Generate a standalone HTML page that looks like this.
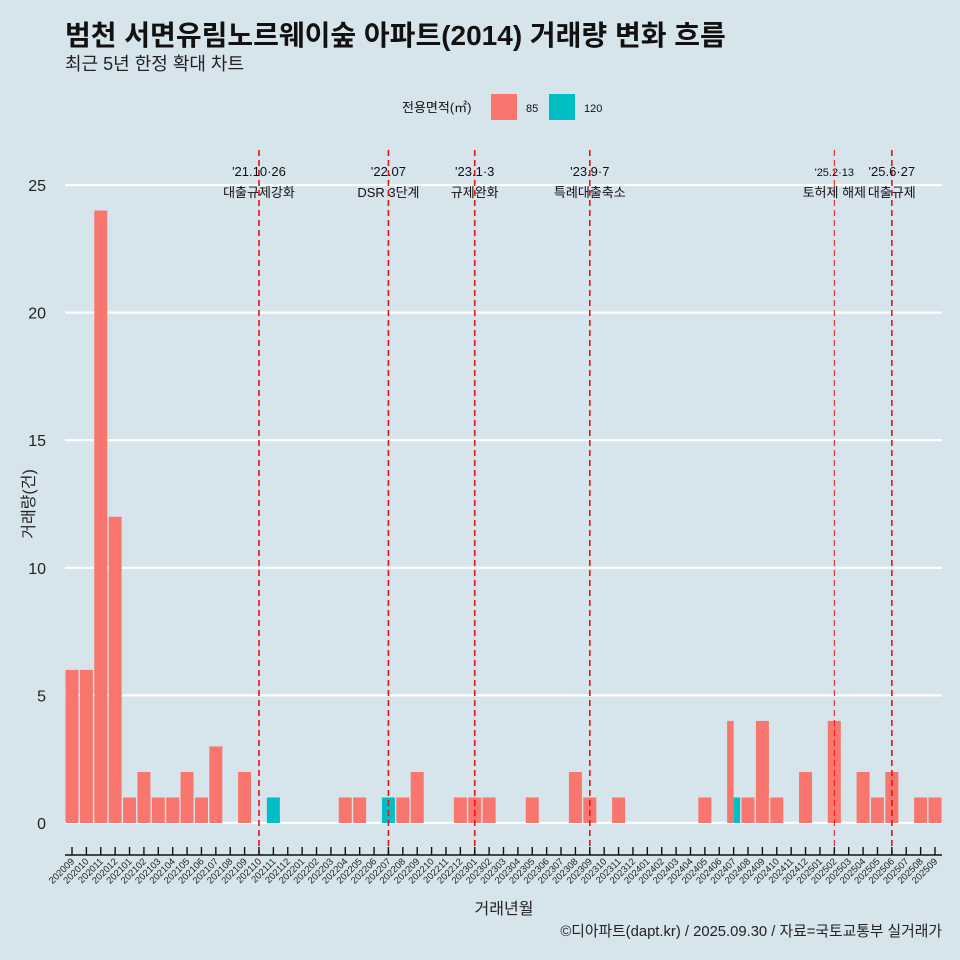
<!DOCTYPE html>
<html><head><meta charset="utf-8"><style>
body{margin:0;background:#d6e4ec;}
svg{display:block;font-family:"Liberation Sans","Noto Sans CJK KR",sans-serif;}
</style></head><body>
<svg id="chart" width="960" height="960">
<rect width="960" height="960" fill="#d6e4ec"/>
<text x="65" y="45" font-size="28" font-weight="bold" fill="#111">범천 서면유림노르웨이숲 아파트(2014) 거래량 변화 흐름</text>
<text x="65" y="70" font-size="18" fill="#222">최근 5년 한정 확대 차트</text>
<g>
<text x="402" y="112" font-size="13" fill="#111">전용면적(㎡)</text>
<rect x="491" y="94" width="26" height="26" fill="#f8766d"/>
<text x="526" y="112" font-size="11" fill="#111">85</text>
<rect x="549" y="94" width="26" height="26" fill="#00bfc4"/>
<text x="584" y="112" font-size="11" fill="#111">120</text>
</g>
<g id="grid"></g><g id="bars"></g><g id="events"></g><g id="axes"></g>
<text transform="translate(34,504) rotate(-90)" text-anchor="middle" font-size="16" fill="#222">거래량(건)</text>
<text x="504" y="914" text-anchor="middle" font-size="16" fill="#222">거래년월</text>
<text x="942" y="936" text-anchor="end" font-size="14.8" fill="#222">©디아파트(dapt.kr) / 2025.09.30 / 자료=국토교통부 실거래가</text>
</svg>
<script>
const categories=["202009","202010","202011","202012","202101","202102","202103","202104","202105","202106","202107","202108","202109","202110","202111","202112","202201","202202","202203","202204","202205","202206","202207","202208","202209","202210","202211","202212","202301","202302","202303","202304","202305","202306","202307","202308","202309","202310","202311","202312","202401","202402","202403","202404","202405","202406","202407","202408","202409","202410","202411","202412","202501","202502","202503","202504","202505","202506","202507","202508","202509"];
const series85=[6,6,24,12,1,2,1,1,2,1,3,0,2,0,0,0,0,0,0,1,1,0,0,1,2,0,0,1,1,1,0,0,1,0,0,2,1,0,1,0,0,0,0,0,1,0,4,1,4,1,0,2,0,4,0,2,1,2,0,1,1];
const series120=[0,0,0,0,0,0,0,0,0,0,0,0,0,0,1,0,0,0,0,0,0,0,1,0,0,0,0,0,0,0,0,0,0,0,0,0,0,0,0,0,0,0,0,0,0,0,1,0,0,0,0,0,0,0,0,0,0,0,0,0,0];
const yTicks=[0,5,10,15,20,25];
const eventMonths=["202110","202207","202301","202309","202502","202506"];
const eventDates=["'21.10·26","'22.07","'23.1·3","'23.9·7","'25.2·13","'25.6·27"];
const eventLabels=["대출규제강화","DSR 3단계","규제완화","특례대출축소","토허제 해제","대출규제"];

const NS="http://www.w3.org/2000/svg";
const X0=72,X1=935,Y0=823,YPU=(823-185)/25,BW=13;
const x=i=>X0+i*(X1-X0)/(categories.length-1);
const y=v=>Y0-v*YPU;
function mk(tag,attrs,parent){const e=document.createElementNS(NS,tag);for(const k in attrs)e.setAttribute(k,attrs[k]);parent.appendChild(e);return e;}
const grid=document.getElementById('grid'),bars=document.getElementById('bars'),ev=document.getElementById('events'),axes=document.getElementById('axes');
yTicks.forEach(t=>{
 const l=mk('line',{x1:65,x2:942,y1:y(t),y2:y(t),stroke:'#fff','stroke-width':2.2},grid);
 
 
 const tx=mk('text',{x:46,y:y(t)+6,'text-anchor':'end','font-size':16,fill:'#222'},axes);
 tx.textContent=t;
 
 
});
categories.forEach((c,i)=>{
 const a=series85[i],b=series120[i];
 const both=a>0&&b>0;
 if(a>0){const r=mk('rect',{x:x(i)-BW/2,y:y(a),width:both?BW/2:BW,height:a*YPU,fill:'#f8766d'},bars);
  
  }
 if(b>0){const r=mk('rect',{x:both?x(i):x(i)-BW/2,y:y(b),width:both?BW/2:BW,height:b*YPU,fill:'#00bfc4'},bars);
  
  }
 const tk=mk('line',{x1:x(i),x2:x(i),y1:847,y2:855,stroke:'#111','stroke-width':1.4},axes);
 
 
 const tl=mk('text',{transform:`translate(${x(i)+3},${862}) rotate(-45)`,'text-anchor':'end','font-size':9.5,fill:'#222'},axes);
 tl.textContent=c;
 
 
});
const ax=mk('line',{x1:65,x2:942,y1:855,y2:855,stroke:'#111','stroke-width':1.4},axes);


eventMonths.forEach((m,k)=>{
 const i=categories.indexOf(m),xx=x(i),thin=m==="202502";
 const l=mk('line',{x1:xx,x2:xx,y1:150,y2:855,stroke:'#ee1111','stroke-width':thin?1:1.6,'stroke-dasharray':'6,4'},ev);
 
 
 const d=mk('text',{x:xx,y:176,'text-anchor':'middle','font-size':thin?11:13,fill:'#111'},ev);
 d.textContent=eventDates[k];
 
 
 const lb=mk('text',{x:xx,y:197,'text-anchor':'middle','font-size':13,fill:'#111'},ev);
 lb.textContent=eventLabels[k];
 
 
});
</script>
</body></html>
